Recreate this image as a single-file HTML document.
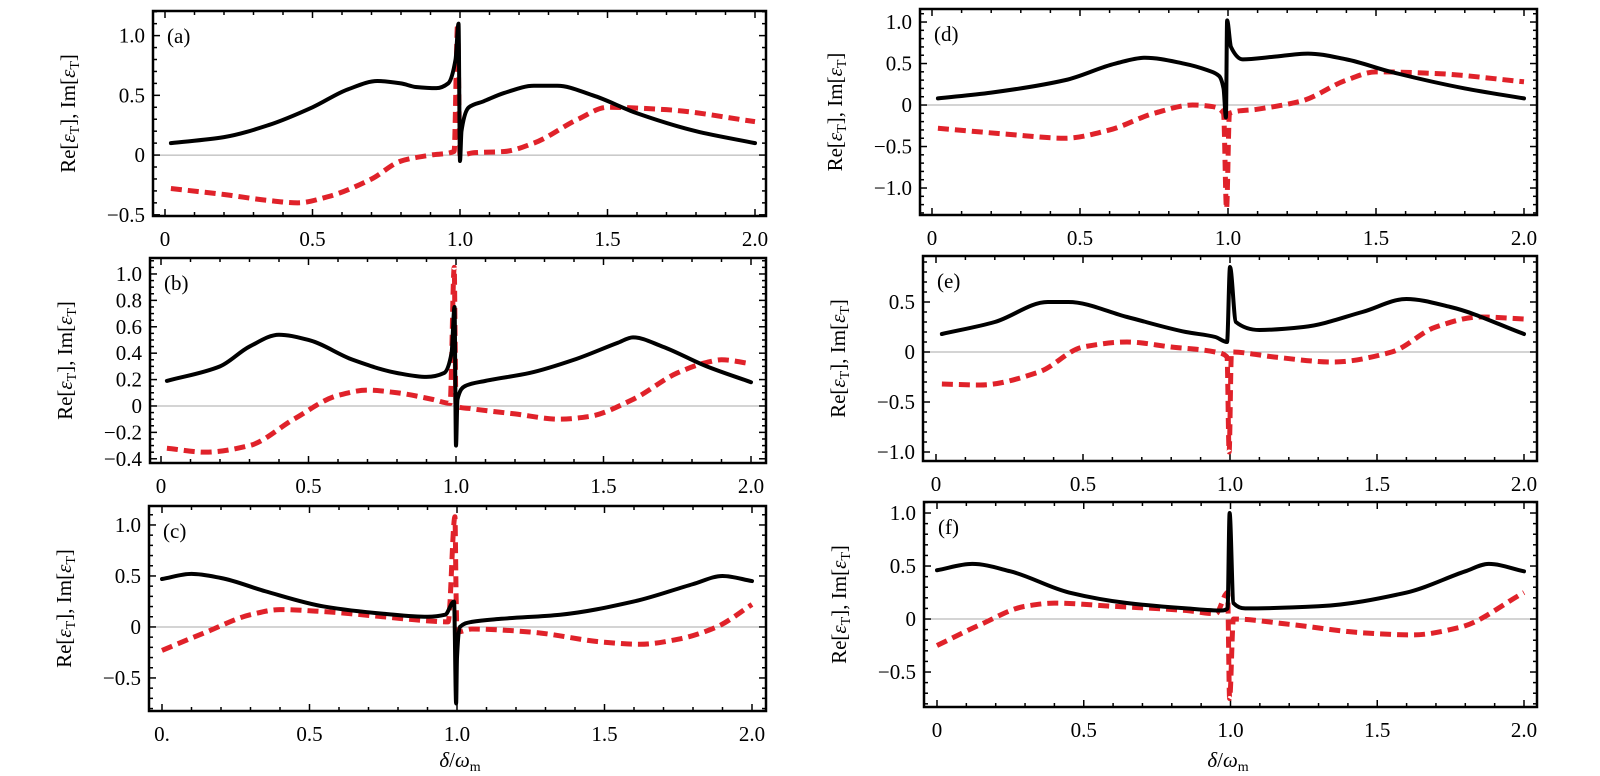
<!DOCTYPE html>
<html><head><meta charset="utf-8">
<style>
body{margin:0;background:#fff;}
svg{display:block;font-family:"Liberation Serif",serif;}
</style></head>
<body>
<svg id="fig" width="1600" height="776" viewBox="0 0 1600 776" xmlns="http://www.w3.org/2000/svg"></svg>
<script>
// ---- data (x = delta/omega_m) ----
const aX_re=[0.02,0.2,0.35,0.5,0.62,0.72,0.8,0.85,0.92,0.96,0.985,0.995,1.0,1.005,1.03,1.08,1.15,1.25,1.33,1.45,1.6,1.8,2.0];
const aY_re=[0.1,0.15,0.25,0.4,0.55,0.62,0.6,0.57,0.56,0.6,0.8,1.1,-0.05,0.2,0.4,0.45,0.52,0.58,0.58,0.5,0.35,0.2,0.1];
const aX_im=[0.02,0.2,0.35,0.45,0.55,0.7,0.8,0.9,0.98,0.992,0.996,1.0,1.05,1.15,1.25,1.4,1.5,1.7,2.0];
const aY_im=[-0.28,-0.33,-0.38,-0.4,-0.35,-0.2,-0.05,0.0,0.03,1.1,0.5,0.0,0.02,0.03,0.1,0.3,0.4,0.38,0.28];

const bX_re=[0.02,0.2,0.3,0.4,0.5,0.65,0.8,0.9,0.96,0.985,0.995,1.0,1.005,1.03,1.1,1.25,1.4,1.55,1.6,1.7,1.85,2.0];
const bY_re=[0.19,0.3,0.45,0.54,0.5,0.35,0.25,0.22,0.25,0.4,0.75,-0.3,0.05,0.15,0.19,0.25,0.35,0.48,0.52,0.45,0.3,0.18];
const bX_im=[0.02,0.15,0.3,0.45,0.6,0.7,0.8,0.92,0.98,0.994,0.997,1.0,1.05,1.2,1.35,1.45,1.6,1.75,1.85,1.9,2.0];
const bY_im=[-0.32,-0.35,-0.3,-0.1,0.08,0.12,0.1,0.05,0.02,1.05,0.5,0.0,-0.02,-0.06,-0.1,-0.08,0.05,0.25,0.33,0.35,0.32];

const cX_re=[0.0,0.1,0.2,0.35,0.55,0.75,0.9,0.96,0.99,0.997,1.0,1.01,1.05,1.15,1.35,1.6,1.8,1.9,2.0];
const cY_re=[0.47,0.52,0.48,0.35,0.2,0.13,0.1,0.12,0.25,-0.75,-0.3,0.0,0.05,0.08,0.12,0.25,0.42,0.5,0.45];
const cX_im=[0.0,0.15,0.3,0.4,0.55,0.75,0.9,0.97,0.993,0.997,1.0,1.05,1.25,1.5,1.62,1.75,1.88,2.0];
const cY_im=[-0.23,-0.05,0.12,0.17,0.15,0.1,0.06,0.05,1.08,0.3,-0.05,-0.02,-0.05,-0.15,-0.17,-0.12,0.0,0.22];

const dX_re=[0.02,0.2,0.45,0.62,0.72,0.85,0.93,0.97,0.985,0.993,0.997,1.01,1.05,1.15,1.27,1.4,1.55,1.8,2.0];
const dY_re=[0.08,0.15,0.3,0.5,0.57,0.5,0.42,0.35,0.2,-0.15,1.02,0.7,0.55,0.58,0.62,0.55,0.4,0.2,0.08];
const dX_im=[0.02,0.25,0.45,0.6,0.75,0.88,0.95,0.985,0.995,1.005,1.1,1.25,1.4,1.5,1.7,2.0];
const dY_im=[-0.28,-0.35,-0.4,-0.3,-0.1,0.0,-0.02,-0.1,-1.25,-0.1,-0.05,0.05,0.3,0.4,0.38,0.28];

const eX_re=[0.02,0.2,0.38,0.45,0.65,0.85,0.95,0.99,1.0,1.02,1.1,1.25,1.45,1.6,1.75,2.0];
const eY_re=[0.18,0.3,0.5,0.5,0.35,0.2,0.15,0.1,0.85,0.3,0.22,0.25,0.4,0.53,0.45,0.18];
const eX_im=[0.02,0.15,0.35,0.5,0.65,0.8,0.95,0.99,0.997,1.005,1.15,1.35,1.55,1.7,1.85,2.0];
const eY_im=[-0.32,-0.33,-0.2,0.05,0.1,0.05,0.0,-0.05,-1.0,0.0,-0.05,-0.1,0.0,0.25,0.35,0.33];

const fX_re=[0.0,0.12,0.25,0.45,0.65,0.85,0.97,0.99,0.997,1.01,1.05,1.3,1.6,1.8,1.88,2.0];
const fY_re=[0.46,0.52,0.45,0.25,0.15,0.1,0.08,0.1,1.0,0.15,0.1,0.12,0.25,0.45,0.52,0.45];
const fX_im=[0.0,0.15,0.3,0.4,0.6,0.85,0.95,0.99,0.997,1.01,1.2,1.45,1.62,1.78,2.0];
const fY_im=[-0.25,-0.05,0.12,0.15,0.12,0.08,0.05,0.25,-0.75,0.0,-0.05,-0.13,-0.15,-0.08,0.25];

const xTickLabels=["0","0.5","1.0","1.5","2.0"];
const xTickVals=[0,0.5,1.0,1.5,2.0];

const NS="http://www.w3.org/2000/svg";
const svg=document.getElementById('fig');
function mk(tag,attrs,parent){const e=document.createElementNS(NS,tag);for(const k in attrs)e.setAttribute(k,attrs[k]);(parent||svg).appendChild(e);return e;}

// monotone cubic path (no overshoot)
function monoPath(P){
  const n=P.length; if(n<2) return '';
  const dx=[],m=[],t=new Array(n);
  for(let i=0;i<n-1;i++){dx[i]=P[i+1][0]-P[i][0];m[i]=(P[i+1][1]-P[i][1])/(dx[i]||1e-9);}
  t[0]=m[0]; t[n-1]=m[n-2];
  for(let i=1;i<n-1;i++){ if(m[i-1]*m[i]<=0) t[i]=0; else { const w1=2*dx[i]+dx[i-1], w2=dx[i]+2*dx[i-1]; t[i]=(w1+w2)/(w1/m[i-1]+w2/m[i]); } }
  let d='M'+P[0][0].toFixed(2)+','+P[0][1].toFixed(2);
  for(let i=0;i<n-1;i++){
    const h=dx[i]/3;
    d+=' C'+(P[i][0]+h).toFixed(2)+','+(P[i][1]+t[i]*h).toFixed(2)+' '+(P[i+1][0]-h).toFixed(2)+','+(P[i+1][1]-t[i+1]*h).toFixed(2)+' '+P[i+1][0].toFixed(2)+','+P[i+1][1].toFixed(2);
  }
  return d;
}

const panels=[
 {id:'a',L:153,R:766,T:11,B:216,x0:165,x2:755,ymin:-0.51,ymax:1.206,maj:[-0.5,0,0.5,1.0],lab:["\u22120.5","0","0.5","1.0"],minStep:0.1,xr:aX_re,yr:aY_re,xi:aX_im,yi:aY_im,zero:"0"},
 {id:'b',L:150,R:766,T:258,B:463,x0:161,x2:751,ymin:-0.432,ymax:1.121,maj:[-0.4,-0.2,0,0.2,0.4,0.6,0.8,1.0],lab:["\u22120.4","\u22120.2","0","0.2","0.4","0.6","0.8","1.0"],minStep:0.05,xr:bX_re,yr:bY_re,xi:bX_im,yi:bY_im,zero:"0"},
 {id:'c',L:149,R:766,T:506,B:711,x0:162,x2:752,ymin:-0.824,ymax:1.186,maj:[-0.5,0,0.5,1.0],lab:["\u22120.5","0","0.5","1.0"],minStep:0.1,xr:cX_re,yr:cY_re,xi:cX_im,yi:cY_im,zero:"0."},
 {id:'d',L:920,R:1537,T:9,B:215,x0:932,x2:1524,ymin:-1.325,ymax:1.157,maj:[-1.0,-0.5,0,0.5,1.0],lab:["\u22121.0","\u22120.5","0","0.5","1.0"],minStep:0.1,xr:dX_re,yr:dY_re,xi:dX_im,yi:dY_im,zero:"0"},
 {id:'e',L:923,R:1537,T:256,B:461,x0:936,x2:1524,ymin:-1.09,ymax:0.96,maj:[-1.0,-0.5,0,0.5],lab:["\u22121.0","\u22120.5","0","0.5"],minStep:0.1,xr:eX_re,yr:eY_re,xi:eX_im,yi:eY_im,zero:"0"},
 {id:'f',L:924,R:1537,T:502,B:707,x0:937,x2:1524,ymin:-0.83,ymax:1.104,maj:[-0.5,0,0.5,1.0],lab:["\u22120.5","0","0.5","1.0"],minStep:0.1,xr:fX_re,yr:fY_re,xi:fX_im,yi:fY_im,zero:"0"}
];

panels.forEach(p=>{
  const g=mk('g',{});
  
  
  const sx=v=>p.x0+(p.x2-p.x0)*v/2;
  const sy=v=>p.B-(v-p.ymin)/(p.ymax-p.ymin)*(p.B-p.T);
  const cp=mk('clipPath',{id:'clip'+p.id},g);
  mk('rect',{x:p.L,y:p.T,width:p.R-p.L,height:p.B-p.T},cp);
  const z=mk('line',{x1:p.L,x2:p.R,y1:sy(0),y2:sy(0),stroke:'#aaa','stroke-width':1},g);
  
  
  for(let i=0;i<=20;i++){
    const v=i/10, X=sx(v), len=(i%5===0)?7:4;
    mk('line',{x1:X,x2:X,y1:p.B,y2:p.B-len,stroke:'#000','stroke-width':1.5},g);
    mk('line',{x1:X,x2:X,y1:p.T,y2:p.T+len,stroke:'#000','stroke-width':1.5},g);
  }
  xTickVals.forEach((v,i)=>{
    const t=mk('text',{x:sx(v),y:p.B+30,'font-size':21,'text-anchor':'middle'},g);
    t.textContent=(i===0)?p.zero:xTickLabels[i];
    
    
  });
  const n0=Math.ceil(p.ymin/p.minStep-1e-6), n1=Math.floor(p.ymax/p.minStep+1e-6);
  for(let k=n0;k<=n1;k++){
    const v=k*p.minStep, Y=sy(v);
    const isMaj=p.maj.some(m=>Math.abs(m-v)<1e-6);
    const len=isMaj?7:4;
    mk('line',{x1:p.L,x2:p.L+len,y1:Y,y2:Y,stroke:'#000','stroke-width':1.5},g);
    mk('line',{x1:p.R,x2:p.R-len,y1:Y,y2:Y,stroke:'#000','stroke-width':1.5},g);
  }
  p.maj.forEach((v,i)=>{
    const t=mk('text',{x:p.L-8,y:sy(v)+7,'font-size':21,'text-anchor':'end'},g);
    t.textContent=p.lab[i];
    
    
  });
  const cg=mk('g',{'clip-path':'url(#clip'+p.id+')'},g);
  const red=mk('path',{d:monoPath(p.xi.map((x,i)=>[sx(x),sy(p.yi[i])])),fill:'none',stroke:'#e0222a','stroke-width':5,'stroke-dasharray':'11,6','stroke-linejoin':'round'},cg);
  
  
  const blk=mk('path',{d:monoPath(p.xr.map((x,i)=>[sx(x),sy(p.yr[i])])),fill:'none',stroke:'#000','stroke-width':4,'stroke-linejoin':'round','stroke-linecap':'round'},cg);
  
  
  const fr=mk('rect',{x:p.L,y:p.T,width:p.R-p.L,height:p.B-p.T,fill:'none',stroke:'#000','stroke-width':2.5},g);
  
  
  const pl=mk('text',{x:p.L+14,y:p.T+32,'font-size':21},g);
  pl.textContent='('+p.id+')';
  
  
  const cy=(p.T+p.B)/2, cx=p.L-78;
  const yt=mk('text',{x:cx,y:cy,'font-size':21,'text-anchor':'middle',transform:'rotate(-90 '+cx+' '+cy+')'},g);
  yt.innerHTML='Re[<tspan font-style="italic">ε</tspan><tspan font-size="14" dy="4">T</tspan><tspan dy="-4">], Im[</tspan><tspan font-style="italic">ε</tspan><tspan font-size="14" dy="4">T</tspan><tspan dy="-4">]</tspan>';
  
  
});
[[460,767],[1228,767]].forEach(([x,y])=>{
  const t=mk('text',{x:x,y:y,'font-size':21,'text-anchor':'middle'});
  t.innerHTML='<tspan font-style="italic">δ</tspan>/<tspan font-style="italic">ω</tspan><tspan font-size="14" dy="4">m</tspan>';
  
  
});
</script>
</body></html>
